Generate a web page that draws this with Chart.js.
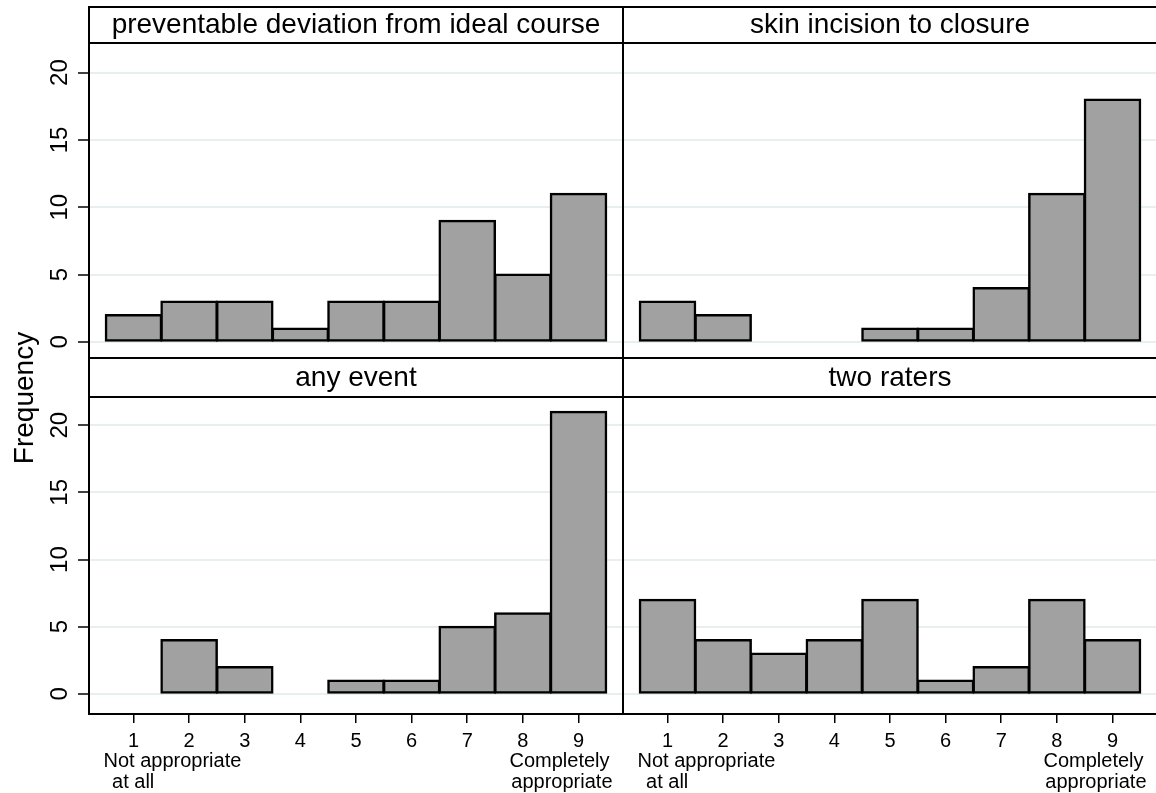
<!DOCTYPE html>
<html>
<head>
<meta charset="utf-8">
<script src="https://cdn.jsdelivr.net/npm/chart.js@4.4.1/dist/chart.umd.min.js"></script>
<style>
  body { margin: 0; background: #fff; width: 1156px; height: 793px; overflow: hidden; position: relative;
         font-family: "Liberation Sans", Arial, sans-serif; color: #000; }
  canvas { position: absolute; }
  .line { position: absolute; background: #000; }
  .strip { position: absolute; text-align: center; font-size: 28px; white-space: nowrap; }
  #ylab { position: absolute; left: -76px; top: 384px; width: 200px; height: 28px; line-height: 28px;
          text-align: center; font-size: 28px; transform: rotate(-90deg); }
</style>
</head>
<body>
<canvas id="c0" width="623" height="315" style="left:0;top:43px"></canvas>
<canvas id="c1" width="534" height="315" style="left:623px;top:43px"></canvas>
<canvas id="c2" width="623" height="396" style="left:0;top:397px"></canvas>
<canvas id="c3" width="534" height="396" style="left:623px;top:397px"></canvas>

<div class="line" style="left:88px;top:6px;width:1072px;height:2px"></div>
<div class="line" style="left:88px;top:42px;width:1072px;height:2px"></div>
<div class="line" style="left:88px;top:357px;width:1072px;height:2px"></div>
<div class="line" style="left:88px;top:396px;width:1072px;height:2px"></div>
<div class="line" style="left:88px;top:713px;width:1072px;height:2px"></div>
<div class="line" style="left:88px;top:6px;width:2px;height:709px"></div>
<div class="line" style="left:622px;top:6px;width:2px;height:709px"></div>

<div class="strip" id="t0" style="left:89px;top:6px;width:534px;height:36px;line-height:36px"></div>
<div class="strip" id="t1" style="left:623px;top:6px;width:534px;height:36px;line-height:36px"></div>
<div class="strip" id="t2" style="left:89px;top:358px;width:534px;height:38px;line-height:38px"></div>
<div class="strip" id="t3" style="left:623px;top:358px;width:534px;height:38px;line-height:38px"></div>
<div id="ylab">Frequency</div>

<script>
// rating scale 1..9
const scores = [1, 2, 3, 4, 5, 6, 7, 8, 9];
const panelTitles = ['preventable deviation from ideal course', 'skin incision to closure', 'any event', 'two raters'];
const deviationFreq = [2, 3, 3, 1, 3, 3, 9, 5, 11];
const incisionFreq = [3, 2, 0, 0, 1, 1, 4, 11, 18];
const anyEventFreq = [0, 4, 2, 0, 1, 1, 5, 6, 21];
const twoRatersFreq = [7, 4, 3, 4, 7, 1, 2, 7, 4];
const yTicks = [0, 5, 10, 15, 20];
const lowNote = ['Not appropriate', ' at all'];
const highNote = ['Completely', 'appropriate'];
const yTitle = 'Frequency';

const FONT = '"Liberation Sans", Arial, sans-serif';

panelTitles.forEach((t, i) => { document.getElementById('t' + i).textContent = t; });
document.getElementById('ylab').textContent = yTitle;

// draws rotated y labels and the x labels with their notes
const axisText = {
  id: 'axisText',
  afterDraw(chart, args, opts) {
    const ctx = chart.ctx;
    ctx.save();
    ctx.fillStyle = '#000';
    if (opts.yLabels) {
      const y = chart.scales.y;
      ctx.font = '24px ' + FONT;
      ctx.textAlign = 'center';
      ctx.textBaseline = 'alphabetic';
      yTicks.forEach(v => {
        ctx.save();
        ctx.translate(y.right - 22, y.getPixelForValue(v));
        ctx.rotate(-Math.PI / 2);
        ctx.fillText(String(v), 0, 0);
        ctx.restore();
      });
    }
    if (opts.xLabels) {
      const x = chart.scales.x;
      const top = x.top;
      ctx.font = '20px ' + FONT;
      ctx.textBaseline = 'alphabetic';
      ctx.textAlign = 'center';
      scores.forEach(v => ctx.fillText(String(v), x.getPixelForValue(v), top + 33));
      const x1 = x.getPixelForValue(scores[0]);
      const x9 = x.getPixelForValue(scores[scores.length - 1]);
      ctx.textAlign = 'left';
      ctx.fillText(lowNote[0], x1 - 30, top + 53);
      ctx.fillText(lowNote[1], x1 - 27, top + 74);
      ctx.textAlign = 'right';
      ctx.fillText(highNote[0], x9 + 31, top + 53);
      ctx.fillText(highNote[1], x9 + 34, top + 74);
    }
    ctx.restore();
  }
};

function makeChart(id, counts, left, bottom, yMin, yMax) {
  return new Chart(document.getElementById(id), {
    type: 'bar',
    data: {
      datasets: [{
        data: scores.map((s, i) => ({x: s, y: counts[i]})),
        backgroundColor: '#a1a1a1',
        borderColor: '#000',
        borderWidth: 2.5,
        borderSkipped: false,
        inflateAmount: 1,
        barPercentage: 1,
        categoryPercentage: 1
      }]
    },
    options: {
      responsive: false,
      animation: false,
      devicePixelRatio: 1,
      layout: {padding: 0},
      plugins: {
        legend: {display: false},
        tooltip: {enabled: false},
        axisText: {yLabels: left, xLabels: bottom}
      },
      scales: {
        x: {
          type: 'linear',
          min: 0.2,
          max: 9.8,
          offset: false,
          display: bottom,
          afterBuildTicks: s => { s.ticks = scores.map(v => ({value: v})); },
          afterFit: s => { s.height = bottom ? 79 : 0; },
          ticks: {display: false},
          grid: {offset: false, drawOnChartArea: false, drawTicks: true, tickLength: 9, color: '#000', lineWidth: 1.5},
          border: {display: false}
        },
        y: {
          type: 'linear',
          min: yMin,
          max: yMax,
          afterBuildTicks: s => { s.ticks = yTicks.map(v => ({value: v})); },
          afterFit: s => { s.width = left ? 89 : 0; },
          ticks: {display: false},
          grid: {color: '#e8eff1', lineWidth: 2, drawTicks: left, tickLength: 11, tickColor: '#000', tickWidth: 1.5},
          border: {display: false}
        }
      }
    },
    plugins: [axisText]
  });
}

makeChart('c0', deviationFreq, true, false, -1.2, 22.2);
makeChart('c1', incisionFreq, false, false, -1.2, 22.2);
makeChart('c2', anyEventFreq, true, true, -1.5, 22.1);
makeChart('c3', twoRatersFreq, false, true, -1.5, 22.1);
</script>
</body>
</html>
